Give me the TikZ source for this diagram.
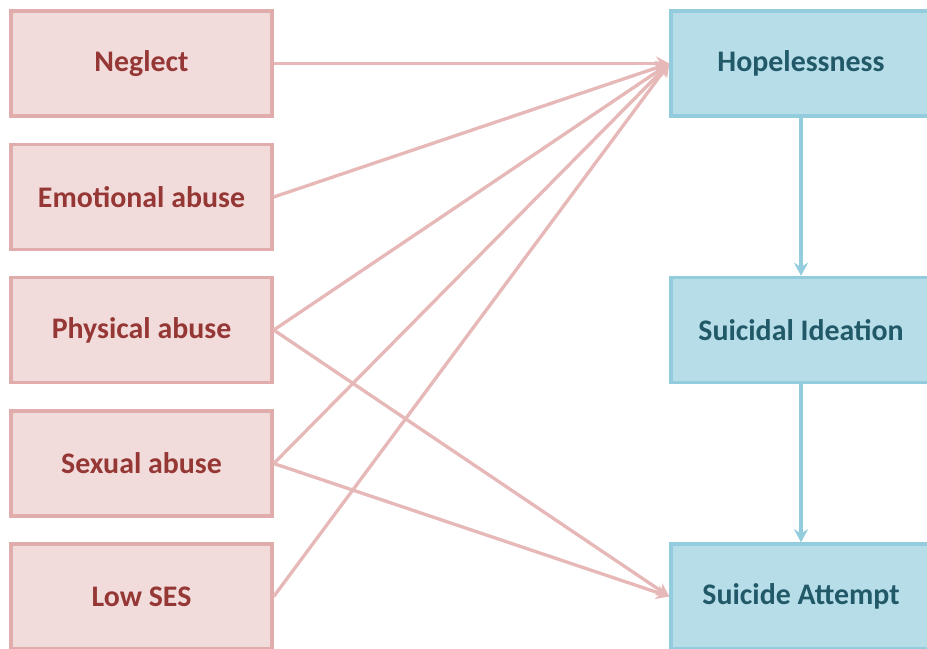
\documentclass[tikz,border=0pt]{standalone}
\usepackage{fontspec}
\setmainfont{Carlito}
\usepackage{xcolor}
\usepackage{tikz}
\usetikzlibrary{arrows.meta, positioning}
\definecolor{pinkfill}{HTML}{F2DCDB}
\definecolor{pinkline}{HTML}{E6B9B8}
\definecolor{pinkedge}{HTML}{E0ADAC}
\definecolor{redtext}{HTML}{953735}
\definecolor{bluefill}{HTML}{B7DEE8}
\definecolor{blueline}{HTML}{93CDDD}
\definecolor{bluetext}{HTML}{215968}

\begin{document}
\begin{tikzpicture}[
  x=0.02cm, y=-0.02cm,
  cause/.style={draw=pinkedge, fill=pinkfill, text=redtext, minimum width=5.22cm, minimum height=2.1cm, font=\fontsize{17}{20}\selectfont\bfseries, line width=2pt, inner sep=0pt},
  outcome/.style={cause, draw=blueline, fill=bluefill, text=bluetext, minimum width=5.2cm},
  parr/.style={-{Stealth[length=2.6mm, width=2.8mm]}, pinkline, line width=1.9pt},
  barr/.style={-{Stealth[length=2.6mm, width=2.8mm]}, blueline, line width=1.9pt}
]
  \useasboundingbox (0,0) rectangle (927,649);

  % Blocks
  \node[cause] (negl) at (141.5,63.5) {Neglect};
  \node[cause] (emo) at (141.5,197) {Emotional abuse};
  \node[cause] (phys) at (141.5,330) {Physical abuse};
  \node[cause] (sex) at (141.5,463.5) {Sexual abuse};
  \node[cause] (ses) at (141.5,596.5) {Low SES};

  \node[outcome] (hope) at (801,63.5) {Hopelessness};
  \node[outcome] (idea) at (801,330) {Suicidal Ideation};
  \node[outcome] (att) at (801,596.5) {Suicide Attempt};

  % Arrows
  \draw[parr] (negl) -- (hope);
  \draw[parr] (emo.east) -- (hope.west);
  \draw[parr] (phys.east) -- (hope.west);
  \draw[parr] (phys.east) -- (att.west);
  \draw[parr] (sex.east) -- (hope.west);
  \draw[parr] (sex.east) -- (att.west);
  \draw[parr] (ses.east) -- (hope.west);
  \draw[barr] (hope) -- (idea);
  \draw[barr] (idea) -- (att);
\end{tikzpicture}
\end{document}
